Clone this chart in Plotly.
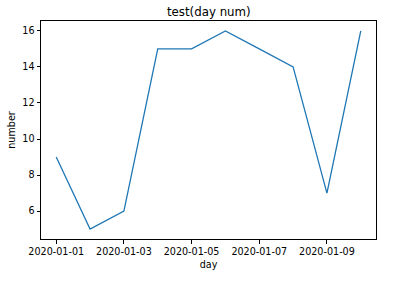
import plotly.graph_objects as go

days = ["2020-01-01", "2020-01-02", "2020-01-03", "2020-01-04", "2020-01-05",
        "2020-01-06", "2020-01-07", "2020-01-08", "2020-01-09", "2020-01-10"]
numbers = [9, 5, 6, 15, 15, 16, 15, 14, 7, 16]
x_ticks = ["2020-01-01", "2020-01-03", "2020-01-05", "2020-01-07", "2020-01-09"]
y_ticks = [6, 8, 10, 12, 14, 16]

font = "DejaVu Sans, sans-serif"
fig = go.Figure()
fig.add_trace(go.Scatter(x=days, y=numbers, mode="lines",
                         line=dict(color="#1f77b4", width=1.3)))

fig.update_layout(
    width=394, height=286,
    margin=dict(l=41, r=18, t=21, b=47),
    paper_bgcolor="white", plot_bgcolor="white",
    showlegend=False,
    font=dict(family=font, size=9.6, color="black"),
    title=dict(text="test(day num)", x=0.53, xanchor="center", y=0.958, yanchor="middle",
               font=dict(family=font, size=11.8, color="black")),
    xaxis=dict(type="date", range=["2019-12-31 13:12", "2020-01-10 10:48"],
               tickvals=x_ticks, ticktext=x_ticks,
               showgrid=False, zeroline=False,
               showline=True, mirror=True, linecolor="black", linewidth=1,
               ticks="outside", ticklen=3.5, tickwidth=1, tickcolor="black",
               title=dict(text="day", standoff=5, font=dict(size=9.6))),
    yaxis=dict(range=[4.45, 16.55], tickvals=y_ticks,
               showgrid=False, zeroline=False,
               showline=True, mirror=True, linecolor="black", linewidth=1,
               ticks="outside", ticklen=3.5, tickwidth=1, tickcolor="black",
               title=dict(text="number", standoff=5, font=dict(size=9.6))),
)
fig.write_html("out.html")
